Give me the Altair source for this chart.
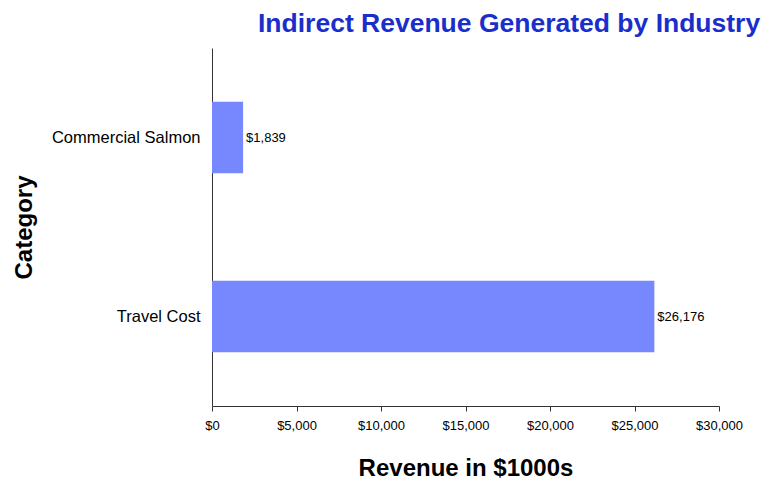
import altair as alt
import pandas as pd

categories = ["Commercial Salmon", "Travel Cost"]
revenue = [1839, 26176]
x_ticks = [0, 5000, 10000, 15000, 20000, 25000, 30000]

df = pd.DataFrame({"Category": categories, "Revenue": revenue})

base = alt.Chart(df).encode(
    y=alt.Y("Category:N", sort=categories,
            scale=alt.Scale(paddingInner=0.6, paddingOuter=0.3),
            axis=alt.Axis(title="Category", ticks=False, labelFontSize=16.5,
                          labelFont="Liberation Sans", labelColor="black",
                          labelPadding=12, titleFont="Liberation Sans",
                          titleFontSize=24, titleFontWeight="bold",
                          titleColor="black", titlePadding=15,
                          domainColor="#333333", grid=False)),
    x=alt.X("Revenue:Q",
            scale=alt.Scale(domain=[0, 30000], nice=False),
            axis=alt.Axis(title="Revenue in $1000s", values=x_ticks,
                          format="$,.0f", labelFontSize=13,
                          labelFont="Liberation Sans", labelColor="black",
                          labelPadding=8, tickSize=5, tickColor="#333333",
                          domainColor="#333333", grid=False,
                          titleFont="Liberation Sans", titleFontSize=24,
                          titleFontWeight="bold", titleColor="black",
                          titlePadding=24, labelFlush=False)),
)

bars = base.mark_bar(color="#7788FF")
labels = base.mark_text(align="left", baseline="middle", dx=3,
                        font="Liberation Sans", fontSize=13, color="black"
                        ).encode(text=alt.Text("Revenue:Q", format="$,.0f"))

chart = (bars + labels).properties(
    width=507, height=358,
    autosize=alt.AutoSizeParams(type="none"),
    padding={"left": 204, "top": 40, "right": 48, "bottom": 76},
    title=alt.TitleParams("Indirect Revenue Generated by Industry",
                          font="Liberation Sans", fontSize=26.5, fontWeight="bold",
                          color="#1a2ecc", anchor="start", frame="group",
                          dx=46, offset=11),
).configure_view(stroke=None)

chart.save("out.html", embed_options={"renderer": "svg", "actions": False})
